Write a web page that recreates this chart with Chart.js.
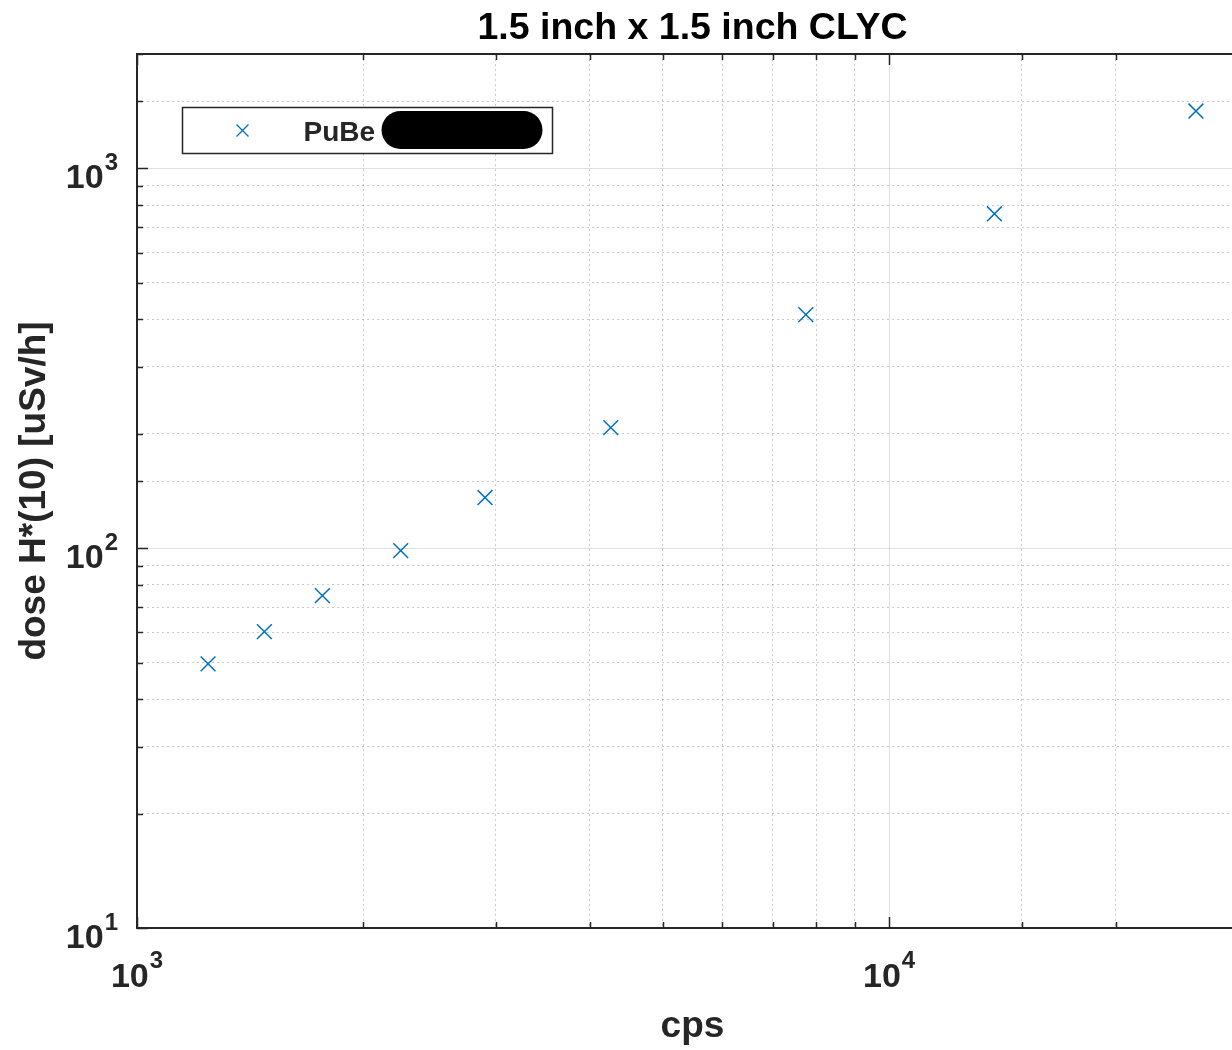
<!DOCTYPE html>
<html>
<head>
<meta charset="utf-8">
<script src="https://cdn.jsdelivr.net/npm/chart.js@4/dist/chart.umd.min.js"></script>
<style>
  html, body { margin: 0; padding: 0; background: #fff; overflow: hidden; }
  #wrap { width: 1250px; height: 1050px; }
</style>
</head>
<body>
<div id="wrap"><canvas id="chart" width="1250" height="1050"></canvas></div>
<script>
const titleText = '1.5 inch x 1.5 inch CLYC'
const xLabel = 'cps'
const yLabel = 'dose H*(10) [uSv/h]'
const seriesName = 'PuBe'

const cps = [1243, 1477, 1764, 2242, 2902, 4265, 7749, 13804, 25581]
const dose = [49.6, 60.3, 75.0, 98.5, 135.9, 207.7, 412, 759, 1415]

const xRange = [1000, 30000]
const yRange = [10, 2000]
const xTickExps = [3, 4]
const yTickExps = [1, 2, 3]

const axisColor = '#262626'
const markerColor = '#0072BD'
const family = '"Liberation Sans", Arial, sans-serif'

const isDecade = v => Math.abs(Math.log10(v) - Math.round(Math.log10(v))) < 1e-9
const gridColor = c => (c.tick && isDecade(c.tick.value)) ? 'rgba(38,38,38,0.15)' : 'rgba(38,38,38,0.24)'
const gridDash = c => (c.tick && !isDecade(c.tick.value)) ? [2, 3] : []

// matlab look: box, inward ticks, 10^n labels, title, legend inside the axes
const matlabAxes = {
    id: 'matlabAxes',
    afterDraw(chart) {
        const c = chart.ctx
        const a = chart.chartArea
        const xs = chart.scales.x
        const ys = chart.scales.y
        c.save()
        c.strokeStyle = axisColor
        c.lineWidth = 1.5

        // inward ticks
        c.beginPath()
        xs.ticks.forEach(t => {
            const px = Math.round(xs.getPixelForValue(t.value)) + 0.5
            const len = isDecade(t.value) ? 11 : 6
            c.moveTo(px, a.bottom); c.lineTo(px, a.bottom - len)
            c.moveTo(px, a.top); c.lineTo(px, a.top + len)
        })
        ys.ticks.forEach(t => {
            const py = Math.round(ys.getPixelForValue(t.value)) + 0.5
            const len = isDecade(t.value) ? 11 : 6
            c.moveTo(a.left, py); c.lineTo(a.left + len, py)
            c.moveTo(a.right, py); c.lineTo(a.right - len, py)
        })
        c.stroke()

        // axes box
        c.lineWidth = 2
        c.strokeRect(a.left, a.top, a.right - a.left, a.bottom - a.top)

        // tick labels 10^n
        c.fillStyle = axisColor
        c.textBaseline = 'alphabetic'
        c.textAlign = 'left'
        const baseFont = 'bold 34px ' + family
        const expFont = 'bold 24px ' + family
        const measure = e => {
            c.font = baseFont
            const w1 = c.measureText('10').width
            c.font = expFont
            const w2 = c.measureText(String(e)).width
            return [w1, w2]
        }
        xTickExps.forEach(e => {
            const px = xs.getPixelForValue(Math.pow(10, e))
            const [w1, w2] = measure(e)
            const x0 = px - (w1 + w2 + 1) / 2
            c.font = baseFont
            c.fillText('10', x0, a.bottom + 59)
            c.font = expFont
            c.fillText(String(e), x0 + w1 + 1, a.bottom + 40)
        })
        yTickExps.forEach(e => {
            const py = ys.getPixelForValue(Math.pow(10, e))
            const [w1, w2] = measure(e)
            const x0 = a.left - 19 - (w1 + w2 + 1)
            c.font = baseFont
            c.fillText('10', x0, py + 20)
            c.font = expFont
            c.fillText(String(e), x0 + w1 + 1, py + 2)
        })

        // title over the axes
        c.fillStyle = '#000'
        c.textAlign = 'center'
        c.font = 'bold 37.5px ' + family
        c.fillText(titleText, (a.left + a.right) / 2, 39)

        // legend box
        const lx = a.left + 45.5, ly = a.top + 53.5
        c.fillStyle = '#fff'
        c.fillRect(lx, ly, 370, 46)
        c.lineWidth = 1.5
        c.strokeStyle = axisColor
        c.strokeRect(lx, ly, 370, 46)
        c.strokeStyle = markerColor
        c.lineWidth = 1.3
        c.beginPath()
        c.moveTo(lx + 54, ly + 17); c.lineTo(lx + 66, ly + 29)
        c.moveTo(lx + 66, ly + 17); c.lineTo(lx + 54, ly + 29)
        c.stroke()
        c.fillStyle = axisColor
        c.textAlign = 'left'
        c.font = 'bold 28px ' + family
        c.fillText(seriesName, lx + 121, ly + 33)
        // redaction blob
        c.fillStyle = '#000'
        c.beginPath()
        c.roundRect(lx + 199, ly + 3.5, 161, 38, 19)
        c.fill()
        c.restore()
    }
}

new Chart(document.getElementById('chart'), {
    type: 'scatter',
    data: {
        datasets: [{
            label: seriesName,
            data: cps.map((x, i) => ({x: x, y: dose[i]})),
            pointStyle: 'crossRot',
            radius: 10.5,
            hoverRadius: 10.5,
            borderWidth: 1.5,
            borderColor: markerColor,
            backgroundColor: markerColor,
        }]
    },
    options: {
        responsive: false,
        devicePixelRatio: 1,
        animation: false,
        layout: {
            autoPadding: false,
            padding: {top: 54, right: 2, left: 0, bottom: 0}
        },
        plugins: {
            legend: {display: false},
            tooltip: {enabled: false},
        },
        scales: {
            x: {
                type: 'logarithmic',
                min: xRange[0],
                max: xRange[1],
                afterFit: s => { s.height = 122 },
                grid: {color: gridColor, drawTicks: false, lineWidth: 1},
                border: {display: false, dash: gridDash},
                ticks: {display: false, autoSkip: false},
                title: {
                    display: true,
                    text: xLabel,
                    color: axisColor,
                    font: {family: family, size: 37, weight: 'bold'},
                    padding: {top: 0, bottom: 1},
                }
            },
            y: {
                type: 'logarithmic',
                min: yRange[0],
                max: yRange[1],
                afterFit: s => { s.width = 137 },
                grid: {color: gridColor, drawTicks: false, lineWidth: 1},
                border: {display: false, dash: gridDash},
                ticks: {display: false, autoSkip: false},
                title: {
                    display: true,
                    text: yLabel,
                    color: axisColor,
                    font: {family: family, size: 37, weight: 'bold'},
                    padding: {top: 13, bottom: 0},
                }
            }
        }
    },
    plugins: [matlabAxes]
})
</script>
</body>
</html>
